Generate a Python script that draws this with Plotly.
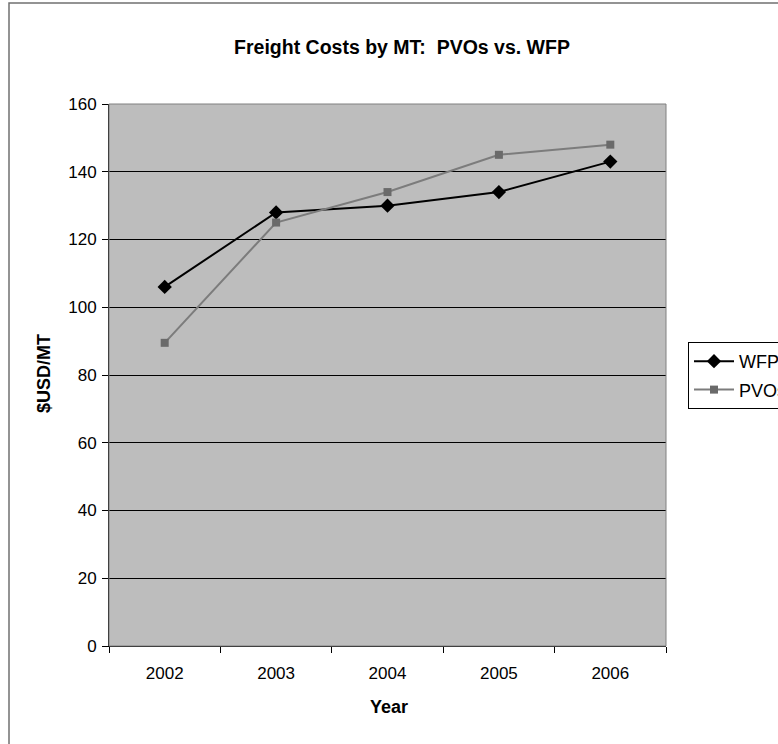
import plotly.graph_objects as go

years = [2002, 2003, 2004, 2005, 2006]
wfp = [106, 128, 130, 134, 143]
pvos = [89.5, 125, 134, 145, 148]
y_ticks = [0, 20, 40, 60, 80, 100, 120, 140, 160]

W, H = 778, 744
L, R, T, B = 109, 666, 104, 646

fig = go.Figure()
fig.add_trace(go.Scatter(
    x=years, y=wfp, name="WFP", mode="lines+markers", legendgroup="a",
    line=dict(color="#000000", width=2),
    marker=dict(symbol="diamond", size=11, color="#000000"),
))
fig.add_trace(go.Scatter(
    x=years, y=pvos, name="PVOs", mode="lines+markers", legendgroup="b",
    line=dict(color="#7c7c7c", width=2),
    marker=dict(symbol="square", size=8, color="#6a6a6a"),
))

def px_x(x):
    return (x - L) / (R - L)

def px_y(y):
    return (B - y) / (B - T)

fig.update_layout(
    width=W, height=H,
    margin=dict(l=L, r=W - R, t=T, b=H - B, autoexpand=False),
    paper_bgcolor="#ffffff",
    plot_bgcolor="#bdbdbd",
    font=dict(family="Liberation Sans, Arial, sans-serif", size=17, color="#000000"),
    title=dict(text="<b>Freight Costs by MT:  PVOs vs. WFP</b>", x=px_x(402), xref="paper",
               xanchor="center", y=1 - 47 / H, yanchor="middle", font=dict(size=19.5)),
    showlegend=True,
    legend=dict(x=px_x(688), y=px_y(342), xanchor="left", yanchor="top",
                bordercolor="#000000", borderwidth=1, bgcolor="#ffffff",
                font=dict(size=18), tracegroupgap=2, itemwidth=40),
    xaxis=dict(range=[2001.5, 2006.5], tickvals=years, ticktext=[str(y) for y in years],
               showgrid=False, zeroline=False, showline=True, linecolor="#000000", linewidth=1,
               ticks="", ticklabelstandoff=12,
               minor=dict(tick0=2001.5, dtick=1, ticks="outside", ticklen=6,
                          tickcolor="#000000", showgrid=False)),
    yaxis=dict(range=[0, 160], tickvals=y_ticks, showgrid=True, gridcolor="#000000", gridwidth=1,
               zeroline=False, showline=True, linecolor="#000000", linewidth=1,
               ticks="outside", ticklen=6, tickcolor="#000000", ticklabelstandoff=2),
    annotations=[
        dict(text="<b>$USD/MT</b>", x=px_x(44), y=px_y(374), xref="paper", yref="paper",
             xanchor="center", yanchor="middle",
             textangle=-90, showarrow=False, font=dict(size=18)),
        dict(text="<b>Year</b>", x=px_x(389), y=px_y(707), xref="paper", yref="paper",
             xanchor="center", yanchor="middle",
             showarrow=False, font=dict(size=18)),
    ],
    shapes=[
        dict(type="rect", xref="paper", yref="paper", x0=0, x1=1, y0=0, y1=1,
             line=dict(color="#808080", width=1), layer="above"),
        dict(type="rect", xref="paper", yref="paper", x0=px_x(9), x1=px_x(800),
             y0=px_y(800), y1=px_y(3), line=dict(color="#707070", width=1.5), layer="below"),
    ],
)

fig.write_html("out.html", config={"displayModeBar": False},
               post_script="document.body.style.margin='0';")
